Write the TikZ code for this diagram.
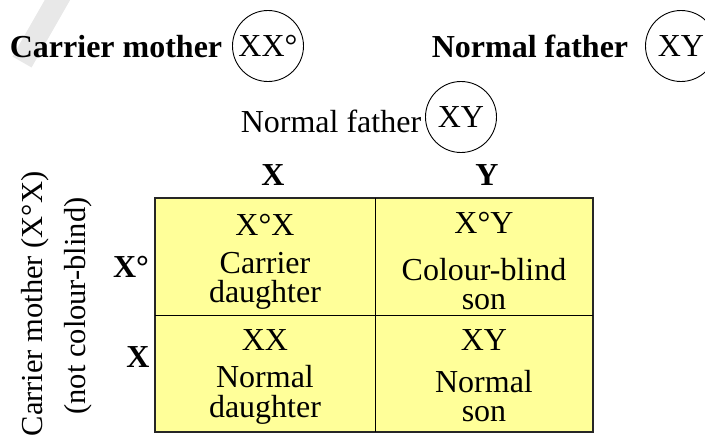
\documentclass[tikz,border=0pt]{standalone}
\usepackage{fontspec}
\setmainfont{Liberation Serif}
\definecolor{cellyellow}{RGB}{255,255,153}

\begin{document}
\begin{tikzpicture}[x=1pt, y=-1pt,
    every node/.style={inner sep=0pt, font=\fontsize{32}{29.5}\selectfont},
    parentlabel/.style={font=\fontsize{32}{29.5}\selectfont\bfseries},
    gamete/.style={font=\fontsize{32}{29.5}\selectfont\bfseries},
    chromo/.style={draw, circle, line width=0.9pt, minimum size=71pt}]

    \useasboundingbox (0,0) rectangle (705,442);

    % faint watermark stroke
    \draw[line width=22pt, black!9] (62,-8) -- (22,62);

    % Parents
    \node[parentlabel, anchor=base] (mother) at (116,57) {Carrier mother};
    \node[chromo] (mothercirc) at (268,46) {XX°};
    \node[parentlabel, anchor=base] (father) at (530,57) {Normal father};
    \node[chromo] (fathercirc) at (681,46) {XY};

    % Father above the square
    \node[anchor=base] (father2) at (331,132) {Normal father};
    \node[chromo] (father2circ) at (461,117) {XY};

    % Gametes
    \node[gamete] (gX) at (273,175) {X};
    \node[gamete] (gY) at (487,175) {Y};
    \node[gamete] (gXc) at (131,267) {X°};
    \node[gamete] (gXm) at (138,357) {X};

    % Mother side label
    \node[rotate=90, font=\fontsize{30.5}{29}\selectfont] (mlabel) at (35,304) {Carrier mother (X°X)};
    \node[rotate=90, font=\fontsize{30.5}{29}\selectfont] (mlabel2) at (78,306) {(not colour-blind)};

    % Punnett square
    \draw[fill=cellyellow, line width=1.2pt, draw=black!85] (155,198) rectangle (593,432);
    \draw[line width=1pt] (375,198) -- (375,432);
    \draw[line width=1pt] (155,315) -- (593,315);

    \foreach \name/\x/\ya/\yb/\geno/\pheno in {
        tl/265/225/281/X°X/{Carrier\\daughter},
        tr/484/223/284/X°Y/{Colour-blind\\son},
        bl/265/340/395/XX/{Normal\\daughter},
        br/484/340/396/XY/{Normal\\son}} {
        \node (geno\name) at (\x,\ya) {\geno};
        \node[align=center] (pheno\name) at (\x,\yb) {\pheno};
    }

\end{tikzpicture}
\end{document}
